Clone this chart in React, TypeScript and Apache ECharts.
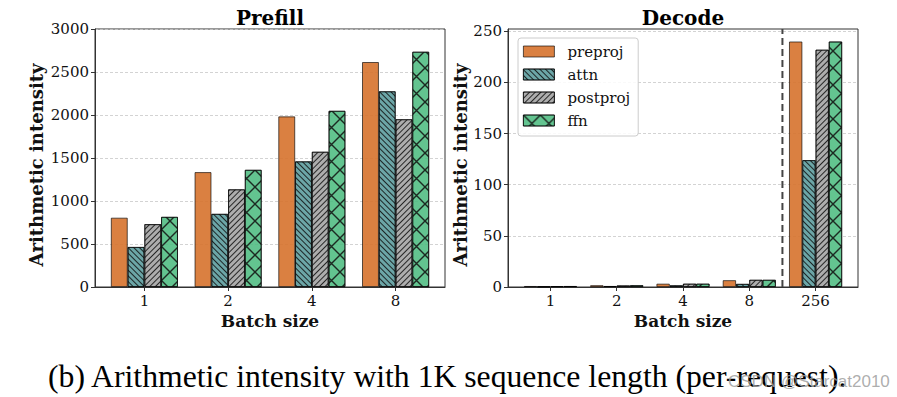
import React, { useEffect, useRef } from 'react';
import * as echarts from 'echarts';

const prefillCats = ['1', '2', '4', '8'];
const decodeCats = ['1', '2', '4', '8', '256'];
const seriesNames = ['preproj', 'attn', 'postproj', 'ffn'];

const prefillPreproj = [805, 1335, 1983, 2615];
const prefillAttn = [465, 850, 1460, 2275];
const prefillPostproj = [730, 1135, 1572, 1950];
const prefillFfn = [815, 1362, 2048, 2735];

const decodePreproj = [0.9, 1.7, 3.2, 6.6, 240];
const decodeAttn = [0.5, 0.9, 1.6, 3.0, 124];
const decodePostproj = [0.8, 1.5, 3.2, 7.0, 232];
const decodeFfn = [0.9, 1.7, 3.2, 7.0, 240];

const prefillTicks = [0, 500, 1000, 1500, 2000, 2500, 3000];
const decodeTicks = [0, 50, 100, 150, 200, 250];
const prefillYMax = 3000;
const decodeYMax = 252.3;
const decodeSeparator = 3.5;

const colors = ['rgba(214,114,44,0.9)', 'rgba(95,158,160,0.92)', 'rgba(169,169,169,0.95)', 'rgba(72,186,124,0.85)'];
const hatchColor = 'rgba(15,15,15,0.85)';
const decals: any[] = [
  null,
  { symbol: 'rect', symbolSize: 1, dashArrayX: [1, 0], dashArrayY: [1, 3], rotation: Math.PI / 4, color: hatchColor },
  { symbol: 'rect', symbolSize: 1, dashArrayX: [1, 0], dashArrayY: [1, 3], rotation: -Math.PI / 4, color: hatchColor },
  {
    symbol: 'path://M0 0L1 0L17 16L17 17L16 17L0 1ZM16 0L17 0L17 1L1 17L0 17L0 16Z',
    symbolSize: 1,
    dashArrayX: [17, 0],
    dashArrayY: [17, 0],
    color: hatchColor,
  },
];

const serif = 'DejaVu Serif';
const textColor = '#111';

function makeX(gridIndex: number, cats: string[]) {
  const n = cats.length;
  const span = n - 0.2;
  const margin = span * 0.05;
  const vals = cats.map((_, i) => i);
  return {
    type: 'value',
    gridIndex,
    min: -0.4 - margin,
    max: n - 0.6 + margin,
    name: 'Batch size',
    nameLocation: 'middle',
    nameGap: 23,
    nameTextStyle: { fontFamily: serif, fontWeight: 'bold', fontSize: 17, color: textColor },
    axisLine: { show: true, onZero: false, lineStyle: { color: '#333', width: 1 } },
    axisTick: { show: true, length: 4, customValues: vals, lineStyle: { color: '#333' } },
    axisLabel: {
      customValues: vals,
      margin: 6,
      fontFamily: serif,
      fontSize: 15,
      color: textColor,
      formatter: (v: number) => cats[Math.round(v)],
    },
    splitLine: { show: false },
  };
}

function makeY(gridIndex: number, max: number, ticks: number[], nameGap: number) {
  return {
    type: 'value',
    gridIndex,
    min: 0,
    max,
    name: 'Arithmetic intensity',
    nameLocation: 'middle',
    nameGap,
    nameTextStyle: { fontFamily: serif, fontWeight: 'bold', fontSize: 18, color: textColor, padding: [0, 14, 0, 0] },
    axisLine: { show: true, onZero: false, lineStyle: { color: '#333', width: 1 } },
    axisTick: { show: true, length: 4, customValues: ticks, lineStyle: { color: '#333' } },
    axisLabel: {
      customValues: ticks,
      margin: 6,
      fontFamily: serif,
      fontSize: 15,
      color: textColor,
      formatter: (v: number) => String(Math.round(v)),
    },
    splitLine: { show: true, lineStyle: { color: '#c8c8c8', type: [3, 2], width: 0.8 } },
  };
}

const prefillData = [prefillPreproj, prefillAttn, prefillPostproj, prefillFfn];
const decodeData = [decodePreproj, decodeAttn, decodePostproj, decodeFfn];

function makeSeries(idx: number, vals: number[], k: number) {
  return {
    type: 'bar',
    name: seriesNames[k],
    xAxisIndex: idx,
    yAxisIndex: idx,
    barWidth: '20%',
    barGap: '0%',
    data: vals.map((v, i) => [i, v]),
    itemStyle: {
      color: colors[k],
      borderColor: 'rgba(0,0,0,0.8)',
      borderWidth: 0.8,
      decal: decals[k] || undefined,
    },
    emphasis: { disabled: true },
  };
}

const series: any[] = [];
seriesNames.forEach((_, k) => series.push(makeSeries(0, prefillData[k], k)));
seriesNames.forEach((_, k) => series.push(makeSeries(1, decodeData[k], k)));
series.push({
  type: 'line',
  name: 'separator',
  xAxisIndex: 1,
  yAxisIndex: 1,
  data: [
    [decodeSeparator, 0],
    [decodeSeparator, decodeYMax],
  ],
  symbol: 'none',
  silent: true,
  lineStyle: { color: '#444', type: [7, 4], width: 2 },
  emphasis: { disabled: true },
  z: 5,
});

const option: any = {
  animation: false,
  backgroundColor: '#fff',
  aria: { enabled: false },
  grid: [
    { left: 95, top: 29, width: 350, height: 258, show: true, borderColor: '#333', borderWidth: 1, backgroundColor: 'transparent' },
    { left: 508, top: 29, width: 350, height: 258, show: true, borderColor: '#333', borderWidth: 1, backgroundColor: 'transparent' },
  ],
  xAxis: [makeX(0, prefillCats), makeX(1, decodeCats)],
  yAxis: [makeY(0, prefillYMax, prefillTicks, 50), makeY(1, decodeYMax, decodeTicks, 38)],
  legend: {
    show: true,
    data: seriesNames,
    orient: 'vertical',
    left: 518,
    top: 38,
    icon: 'rect',
    itemWidth: 31,
    itemHeight: 11,
    itemGap: 8,
    padding: [6, 8, 8, 5],
    borderColor: '#ccc',
    borderWidth: 1,
    borderRadius: 3,
    backgroundColor: 'rgba(255,255,255,0.85)',
    formatter: '{t|{name}}',
    textStyle: {
      fontFamily: serif,
      fontSize: 15,
      color: textColor,
      rich: { t: { fontFamily: serif, fontSize: 15, color: textColor, padding: [0, 0, 0, 8] } },
    },
    itemStyle: { borderColor: 'rgba(0,0,0,0.8)', borderWidth: 0.8 },
  },
  graphic: [
    { type: 'text', x: 270, y: 18, style: { text: 'Prefill', fontFamily: serif, fontWeight: 'bold', fontSize: 20, fill: '#000', align: 'center', verticalAlign: 'middle' } },
    { type: 'text', x: 683, y: 18, style: { text: 'Decode', fontFamily: serif, fontWeight: 'bold', fontSize: 20, fill: '#000', align: 'center', verticalAlign: 'middle' } },
    {
      type: 'text',
      x: 48,
      y: 376,
      style: { text: '(b) Arithmetic intensity with 1K sequence length (per-request).', fontFamily: 'Liberation Serif', fontSize: 31.7, fill: '#000', align: 'left', verticalAlign: 'middle' },
    },
    {
      type: 'text',
      x: 728,
      y: 381,
      style: { text: 'CSDN @Starcat2010', fontFamily: 'Liberation Sans', fontSize: 17, fill: 'rgba(160,160,160,0.85)', align: 'left', verticalAlign: 'middle' },
    },
  ],
  series,
};

export default function App() {
  const ref = useRef<HTMLDivElement>(null);
  useEffect(() => {
    const chart = echarts.init(ref.current!, null, { renderer: 'svg' });
    chart.setOption(option);
    return () => chart.dispose();
  }, []);
  return <div ref={ref} style={{ position: 'fixed', left: 0, top: 0, width: 897, height: 397, background: '#fff' }} />;
}
